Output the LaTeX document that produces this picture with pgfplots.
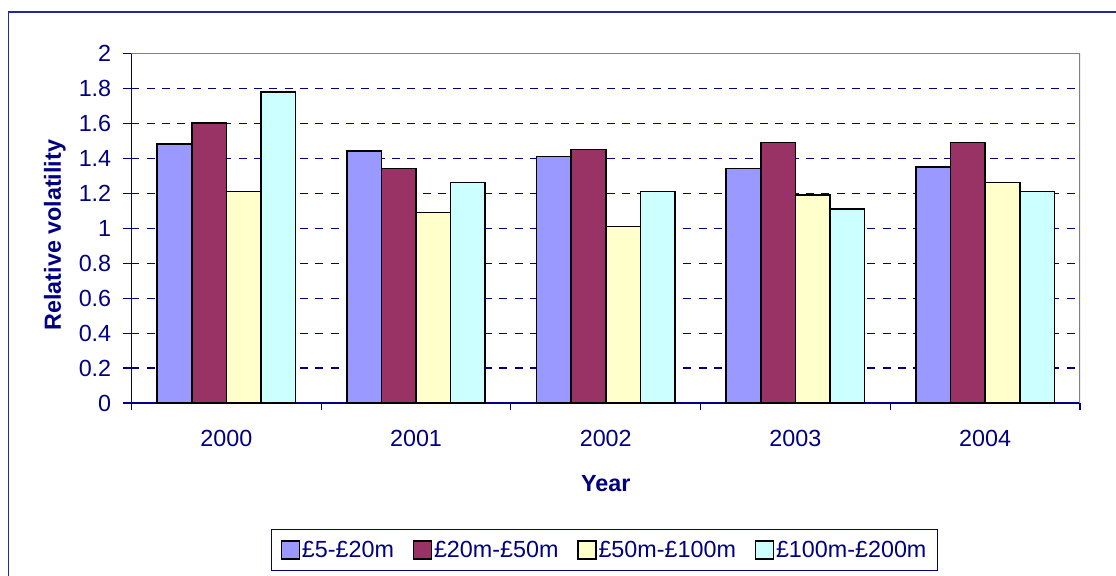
\documentclass[border=0pt]{standalone}
\usepackage{fontspec}
\setmainfont{Liberation Sans}
\usepackage{pgfplots}
\pgfplotsset{compat=1.18}
\definecolor{navy}{RGB}{0,0,128}
\definecolor{frameblue}{RGB}{40,40,150}
\definecolor{framegray}{RGB}{128,128,128}
\definecolor{c1}{RGB}{153,153,255}
\definecolor{c2}{RGB}{153,51,102}
\definecolor{c3}{RGB}{255,255,204}
\definecolor{c4}{RGB}{204,255,255}
\newcommand{\lblfont}{\fontsize{17.5}{21}\selectfont}
\begin{document}
\begin{tikzpicture}
\clip (0,0) rectangle (837pt,431.25pt);
\fill[white] (0,0) rectangle (837pt,431.25pt);
\draw[frameblue, line width=1.1pt] (6.5pt,-20pt) rectangle (860pt,422.25pt);
\begin{axis}[
  at={(98.6pt,129pt)}, anchor=south west,
  scale only axis, width=711.4pt, height=262.3pt,
  ybar=0pt, bar width=25.95pt,
  xmin=-0.5, xmax=4.5, ymin=0, ymax=2,
  axis x line*=bottom, axis y line*=left,
  axis line style={navy, line width=0.8pt, -},
  xtick={0,1,2,3,4}, xticklabels={2000,2001,2002,2003,2004},
  major x tick style={draw=none},
  minor xtick={-0.5,0.5,1.5,2.5,3.5,4.5},
  minor x tick style={draw=navy, line width=0.8pt},
  minor tick length=5.25pt,
  ytick={0,0.2,0.4,0.6,0.8,1,1.2,1.4,1.6,1.8,2},
  major y tick style={draw=navy, line width=0.8pt},
  major tick length=6pt,
  tick align=outside,
  ymajorgrids,
  grid style={navy, dash pattern=on 6pt off 5.5pt, line width=0.8pt},
  /pgf/number format/assume math mode=true,
  ticklabel style={font=\lblfont, text=navy},
  yticklabel style={inner sep=0pt, xshift=-9pt},
  xticklabel style={inner sep=0pt, yshift=-14pt},
  xlabel={Year}, ylabel={Relative volatility},
  label style={font=\lblfont\bfseries, text=navy},
  xlabel style={at={(axis description cs:0.5,-0.229)}, anchor=center},
  ylabel style={at={(axis description cs:-0.0807,0.48)}, anchor=center, rotate=0},
  legend columns=4,
  legend style={at={(axis description cs:0.1471,-0.3612)}, anchor=north west,
    draw=navy, line width=0.8pt, font=\lblfont, text=navy,
    inner xsep=7pt, inner ysep=7.5pt,
    nodes={inner xsep=1.2pt, inner ysep=1pt},
    /tikz/every even column/.append style={column sep=13pt}},
  legend image code/.code={\draw[#1, draw=black, line width=1.1pt] (0pt,-6.5pt) rectangle (13.5pt,7pt);},
]
\addplot[fill=c1, draw=black, line width=1.2pt] coordinates {(0,1.48) (1,1.44) (2,1.41) (3,1.34) (4,1.35)};
\addplot[fill=c2, draw=black, line width=1.2pt] coordinates {(0,1.60) (1,1.34) (2,1.45) (3,1.49) (4,1.49)};
\addplot[fill=c3, draw=black, line width=1.2pt] coordinates {(0,1.21) (1,1.09) (2,1.01) (3,1.19) (4,1.26)};
\addplot[fill=c4, draw=black, line width=1.2pt] coordinates {(0,1.78) (1,1.26) (2,1.21) (3,1.11) (4,1.21)};
\legend{£5-£20m,£20m-£50m,£50m-£100m,£100m-£200m}
\draw[framegray, line width=1.2pt] (rel axis cs:0,1) -- (rel axis cs:1,1) -- (rel axis cs:1,0);
\end{axis}
\end{tikzpicture}
\end{document}
